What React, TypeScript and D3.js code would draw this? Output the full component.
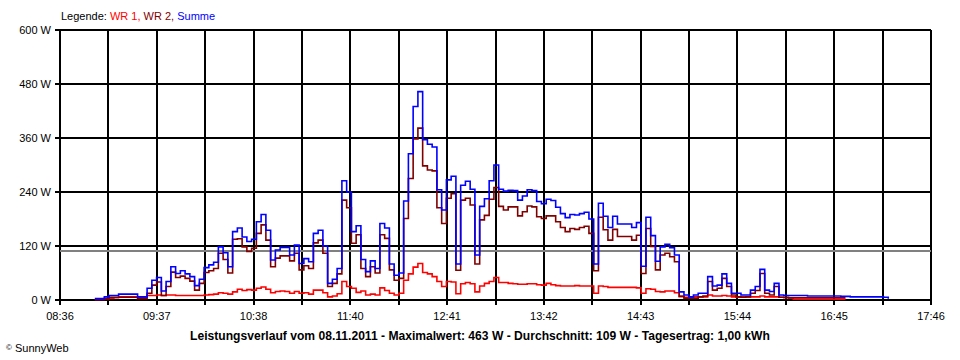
import React from "react";
import * as d3 from "d3";

// minutes after 08:36 of the first sample, and sampling interval (minutes)
const START_MIN = 22;
const STEP_MIN = 3;
const SPAN_MIN = 550; // 08:36 .. 17:46

const summe = [
  3, 3, 7, 10, 10, 13, 13, 13, 13, 7, 7, 26, 44, 50, 20, 41, 74, 59, 65, 58,
  52, 32, 46, 72, 78, 84, 118, 105, 74, 152, 160, 140, 130, 135, 174, 190, 155, 89, 111, 117,
  117, 100, 122, 81, 92, 85, 148, 155, 120, 37, 46, 70, 265, 240, 152, 165, 90, 63, 87, 70,
  170, 160, 80, 55, 60, 220, 325, 430, 463, 356, 346, 340, 245, 200, 267, 275, 80, 255, 264, 246,
  100, 208, 225, 265, 300, 246, 242, 244, 243, 222, 231, 245, 243, 219, 214, 224, 221, 206, 192, 183,
  190, 189, 192, 195, 180, 80, 215, 186, 161, 186, 169, 169, 169, 161, 172, 75, 184, 143, 86, 118,
  124, 116, 100, 18, 11, 7, 11, 15, 15, 52, 31, 33, 58, 37, 15, 15, 11, 11, 22, 30,
  68, 22, 19, 37, 11, 10, 10, 10, 10, 10, 9, 9, 9, 9, 9, 9, 9, 8, 8, 7,
  7, 7, 7, 7, 7, 7, 6, 3,
];

const wr2 = [
  1, 2, 3, 6, 6, 6, 6, 6, 6, 3, 3, 15, 33, 40, 10, 30, 62, 50, 53, 48,
  42, 22, 37, 61, 65, 70, 104, 90, 60, 135, 136, 118, 108, 115, 148, 167, 133, 74, 93, 98,
  98, 87, 104, 67, 76, 70, 127, 133, 104, 30, 37, 58, 222, 205, 126, 145, 70, 52, 74, 60,
  145, 137, 67, 44, 48, 181, 270, 358, 382, 298, 289, 287, 205, 170, 226, 236, 66, 222, 226, 211,
  80, 178, 188, 224, 250, 208, 200, 207, 207, 187, 196, 209, 207, 185, 181, 187, 187, 174, 161, 152,
  159, 157, 161, 164, 148, 65, 184, 156, 133, 157, 141, 141, 141, 133, 144, 59, 159, 119, 67, 100,
  104, 96, 85, 8, 4, 4, 4, 7, 9, 41, 22, 26, 48, 30, 11, 7, 6, 7, 15, 21,
  59, 15, 11, 30, 6, 6, 5, 5, 5, 5, 5, 5, 5, 5, 5, 5, 5, 5, 5,
];

const wr1 = [
  1, 1, 3, 4, 5, 7, 7, 7, 7, 5, 5, 10, 10, 11, 10, 11, 11, 10, 10, 10,
  10, 10, 10, 11, 12, 13, 16, 15, 13, 18, 24, 21, 23, 22, 26, 29, 24, 16, 19, 20,
  19, 15, 19, 15, 16, 13, 22, 22, 16, 7, 9, 14, 41, 30, 26, 17, 20, 11, 13, 11,
  27, 21, 15, 11, 15, 44, 58, 73, 81, 61, 58, 52, 41, 30, 41, 40, 14, 36, 39, 36,
  18, 31, 37, 41, 50, 39, 39, 37, 36, 35, 35, 36, 36, 34, 33, 37, 34, 32, 31, 31,
  31, 32, 31, 31, 31, 15, 31, 30, 28, 28, 28, 28, 28, 28, 27, 15, 25, 24, 19, 18,
  20, 20, 16, 8, 6, 5, 7, 7, 7, 11, 9, 9, 10, 9, 7, 6, 7, 7, 7, 7,
  9, 7, 7, 7, 6, 5, 4, 2, 2, 2, 2, 2, 2, 2, 2, 2, 2, 2, 2,
];

const timeLabels = ["08:36", "09:37", "10:38", "11:40", "12:41", "13:42", "14:43", "15:44", "16:45", "17:46"];
const yTicks = [0, 120, 240, 360, 480, 600];
const average = 109;
const legendLabel = "Legende: ";
const seriesNames = ["WR 1", "WR 2", "Summe"];
const titleText =
  "Leistungsverlauf vom 08.11.2011 - Maximalwert: 463 W - Durchschnitt: 109 W - Tagesertrag: 1,00 kWh";
const footerText = "SunnyWeb";

const COLORS = { wr1: "#ff0000", wr2: "#800000", summe: "#0000ff" };

export default function App() {
  const x = d3.scaleLinear().domain([0, SPAN_MIN]).range([60, 931]);
  const y = d3.scaleLinear().domain([0, 600]).range([300, 30]);
  const gridMinutes = d3.range(19).map((k) => (k * SPAN_MIN) / 18);
  const line = d3
    .line<number>()
    .x((_, i) => x(START_MIN + i * STEP_MIN))
    .y((d) => y(d))
    .curve(d3.curveStepAfter);

  const font = "'Liberation Sans', Arial, sans-serif";

  return (
    <div style={{ position: "absolute", left: 0, top: 0, width: 960, height: 360, background: "#fff" }}>
      <svg width={960} height={360} fontFamily={font}>
        <rect x={0} y={0} width={960} height={360} fill="#fff" />
        {/* legend */}
        <text x={61} y={20} fontSize={11}>
          <tspan fill="#000">{legendLabel}</tspan>
          <tspan fill={COLORS.wr1}>{seriesNames[0] + ", "}</tspan>
          <tspan fill={COLORS.wr2}>{seriesNames[1] + ", "}</tspan>
          <tspan fill={COLORS.summe}>{seriesNames[2]}</tspan>
        </text>
        {/* grid */}
        <g shapeRendering="crispEdges">
          {yTicks.map((v) => (
            <line key={"h" + v} x1={55} x2={931} y1={y(v)} y2={y(v)} stroke="#000" strokeWidth={2} />
          ))}
          {gridMinutes.map((m, k) => (
            <line key={"v" + k} x1={x(m)} x2={x(m)} y1={y(600)} y2={305} stroke="#000" strokeWidth={2} />
          ))}
          <line x1={60} x2={931} y1={y(average)} y2={y(average)} stroke="#808080" strokeWidth={2} />
        </g>
        {/* y labels */}
        {yTicks.map((v) => (
          <text key={"yl" + v} x={51} y={y(v) + 4} fontSize={11} textAnchor="end">
            {v + " W"}
          </text>
        ))}
        {/* x labels */}
        {timeLabels.map((t, i) => (
          <text key={"xl" + t} x={x(gridMinutes[i * 2])} y={320} fontSize={11} textAnchor="middle">
            {t}
          </text>
        ))}
        {/* series */}
        <g fill="none" strokeWidth={1.6} strokeLinejoin="miter">
          <path d={line(wr1) || ""} stroke={COLORS.wr1} />
          <path d={line(wr2) || ""} stroke={COLORS.wr2} />
          <path d={line(summe) || ""} stroke={COLORS.summe} />
        </g>
        {/* title */}
        <text x={480} y={340} fontSize={12.1} fontWeight="bold" textAnchor="middle">
          {titleText}
        </text>
        <text x={6} y={352} fontSize={11}>
          <tspan fontSize={8} dy={-2}>©</tspan>
          <tspan dy={2}>{" " + footerText}</tspan>
        </text>
      </svg>
    </div>
  );
}
